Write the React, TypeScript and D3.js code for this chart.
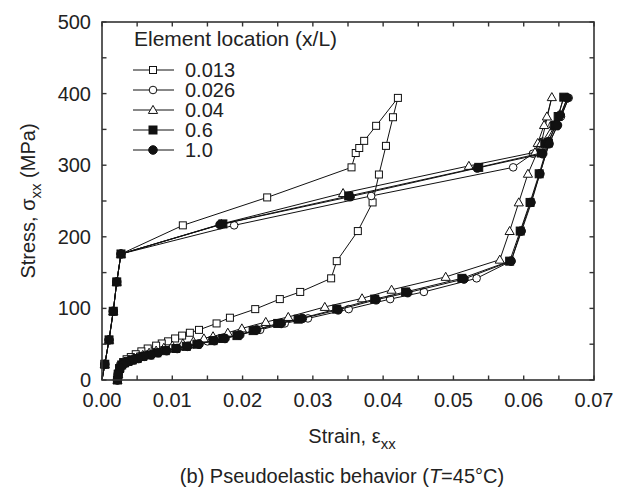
import React from "react";
import * as d3 from "d3";

type P = [number, number];

// Element location x/L = 0.013 (open squares)
const s0013: P[] = [
  [0, 0], [0.0004, 22], [0.001, 56], [0.0016, 96], [0.0021, 137], [0.0027, 176],
  [0.0115, 216], [0.0235, 255], [0.0355, 297], [0.0361, 317], [0.0366, 324], [0.0373, 334],
  [0.039, 355], [0.0421, 394],
  [0.0414, 367], [0.0404, 327], [0.0394, 287], [0.0385, 248], [0.0364, 208], [0.0334, 166],
  [0.0326, 142], [0.0282, 123], [0.0253, 113], [0.0218, 99], [0.0182, 87], [0.0163, 79],
  [0.0138, 70], [0.0125, 66], [0.0114, 62], [0.0104, 58], [0.0094, 54], [0.0085, 51],
  [0.0077, 48], [0.0065, 44], [0.0056, 40], [0.0048, 36], [0.0041, 32], [0.0035, 29],
  [0.003, 25], [0.0026, 19], [0.0023, 9], [0.0022, 0],
];

// x/L = 0.026 (open circles)
const s0026: P[] = [
  [0, 0], [0.0004, 22], [0.001, 56], [0.0016, 96], [0.0021, 137], [0.0027, 176],
  [0.0188, 216], [0.0383, 257], [0.0585, 297], [0.0613, 316], [0.0627, 333], [0.0641, 356],
  [0.0653, 368], [0.0664, 394],
  [0.0648, 355], [0.0636, 330], [0.0623, 288], [0.0611, 248], [0.0597, 208], [0.0582, 166],
  [0.0533, 142], [0.0458, 123], [0.041, 113], [0.0351, 99], [0.0293, 86], [0.026, 79],
  [0.0225, 70], [0.0195, 63], [0.017, 58], [0.015, 54], [0.013, 50], [0.0115, 47],
  [0.01, 45], [0.0088, 42], [0.0077, 39], [0.0067, 36], [0.0058, 33], [0.005, 31],
  [0.0043, 28], [0.0037, 26], [0.0032, 24], [0.0028, 21], [0.0025, 16], [0.0023, 8],
  [0.0022, 0],
];

// x/L = 0.04 (open triangles)
const s004: P[] = [
  [0, 0], [0.0004, 22], [0.001, 56], [0.0016, 96], [0.0021, 137], [0.0027, 176],
  [0.017, 218], [0.0343, 261], [0.0522, 299], [0.0616, 318], [0.062, 331], [0.0629, 356],
  [0.0633, 368], [0.064, 395],
  [0.0625, 331], [0.0606, 288], [0.0593, 248], [0.058, 208], [0.0566, 168],
  [0.0489, 144], [0.0412, 126], [0.037, 114], [0.0317, 102], [0.0265, 88], [0.0233, 81],
  [0.0199, 72], [0.0179, 66], [0.0158, 61], [0.0145, 58], [0.013, 54], [0.0115, 51],
  [0.01, 48], [0.0088, 45], [0.0077, 41], [0.0067, 38], [0.0058, 35], [0.005, 32],
  [0.0043, 29], [0.0037, 27], [0.0032, 25], [0.0028, 22], [0.0025, 17], [0.0023, 8],
  [0.0022, 0],
];

// x/L = 0.6 (filled squares)
const s06: P[] = [
  [0, 0], [0.0004, 22], [0.001, 56], [0.0016, 96], [0.0021, 137], [0.0027, 176],
  [0.0172, 218], [0.0351, 257], [0.0536, 297], [0.0625, 317], [0.063, 330], [0.0644, 355],
  [0.0649, 368], [0.0657, 395],
  [0.0645, 356], [0.0635, 331], [0.0622, 288], [0.0609, 248], [0.0595, 208], [0.058, 166],
  [0.0512, 142], [0.0432, 123], [0.0388, 113], [0.0334, 99], [0.0279, 85], [0.025, 79],
  [0.0215, 69], [0.0192, 62], [0.0172, 58], [0.0158, 55], [0.0135, 50], [0.012, 47],
  [0.0105, 44], [0.009, 41], [0.0078, 38], [0.0068, 35], [0.0058, 33], [0.005, 30],
  [0.0043, 28], [0.0037, 26], [0.0032, 24], [0.0028, 21], [0.0025, 16], [0.0023, 8],
  [0.0022, 0],
];

// x/L = 1.0 (filled circles)
const s10: P[] = [
  [0, 0], [0.0004, 22], [0.001, 56], [0.0016, 96], [0.0021, 137], [0.0027, 176],
  [0.0168, 217], [0.0353, 256], [0.0534, 296], [0.0627, 316], [0.0635, 333], [0.0646, 356],
  [0.0652, 370], [0.0662, 394],
  [0.0648, 356], [0.0636, 330], [0.0623, 288], [0.061, 248], [0.0596, 208], [0.0582, 166],
  [0.0515, 141], [0.0435, 122], [0.039, 112], [0.0336, 98], [0.0285, 86], [0.0255, 79],
  [0.022, 70], [0.0196, 63], [0.0175, 58], [0.016, 55], [0.0138, 50], [0.0122, 47],
  [0.0107, 44], [0.0092, 41], [0.008, 38], [0.007, 35], [0.006, 33], [0.0052, 30],
  [0.0045, 28], [0.0039, 26], [0.0034, 24], [0.003, 22], [0.0026, 17], [0.0023, 8],
  [0.0022, 0],
];

const seriesNames = ["0.013", "0.026", "0.04", "0.6", "1.0"];
const seriesData = [s0013, s0026, s004, s06, s10];
const seriesMarkers = ["square", "circle", "triangle", "squareFilled", "circleFilled"];

const xTickValues = [0, 0.01, 0.02, 0.03, 0.04, 0.05, 0.06, 0.07];
const xMinorTicks = [0.005, 0.015, 0.025, 0.035, 0.045, 0.055, 0.065];
const yTickValues = [0, 100, 200, 300, 400, 500];
const yMinorTicks = [50, 150, 250, 350, 450];

const W = 635, H = 493;
const X0 = 102, X1 = 594, Y0 = 380, Y1 = 22;
const FONT = "Arial, 'Liberation Sans', Helvetica, sans-serif";
const TXT = "#222";

function Marker({ kind, x, y }: { kind: string; x: number; y: number }) {
  const sw = 1;
  if (kind === "square")
    return <rect x={x - 3.5} y={y - 3.5} width={7} height={7} fill="#fff" stroke="#111" strokeWidth={sw} />;
  if (kind === "squareFilled")
    return <rect x={x - 4} y={y - 4} width={8} height={8} fill="#111" stroke="#111" strokeWidth={sw} />;
  if (kind === "circle")
    return <circle cx={x} cy={y} r={3.8} fill="#fff" stroke="#111" strokeWidth={sw} />;
  if (kind === "circleFilled")
    return <circle cx={x} cy={y} r={4.3} fill="#111" stroke="#111" strokeWidth={sw} />;
  const s = 4.6;
  const pts = `${x},${y - s} ${x - s},${y + s * 0.75} ${x + s},${y + s * 0.75}`;
  return <polygon points={pts} fill="#fff" stroke="#111" strokeWidth={sw} />;
}

export default function App() {
  const xScale = d3.scaleLinear().domain([0, 0.07]).range([X0, X1]);
  const yScale = d3.scaleLinear().domain([0, 500]).range([Y0, Y1]);
  const line = d3
    .line<P>()
    .x((d) => xScale(d[0]))
    .y((d) => yScale(d[1]));

  const allX = [...xTickValues, ...xMinorTicks];
  const allY = [...yTickValues, ...yMinorTicks];
  const tl = 4.5;

  return (
    <svg
      width={W}
      height={H}
      style={{ position: "absolute", left: 0, top: 0, background: "#fff" }}
      fontFamily={FONT}
    >
      {/* series */}
      {seriesData.map((data, i) => (
        <g key={i}>
          <path d={line(data) || ""} fill="none" stroke="#111" strokeWidth={1} />
          {data.slice(1).map((d, j) => (
            <Marker key={j} kind={seriesMarkers[i]} x={xScale(d[0])} y={yScale(d[1])} />
          ))}
        </g>
      ))}

      {/* frame */}
      <rect x={X0} y={Y1} width={X1 - X0} height={Y0 - Y1} fill="none" stroke="#333" strokeWidth={1.6} />
      {allX.map((v, i) => (
        <g key={"xt" + i}>
          <line x1={xScale(v)} x2={xScale(v)} y1={Y0} y2={Y0 - tl} stroke="#333" strokeWidth={1.4} />
          <line x1={xScale(v)} x2={xScale(v)} y1={Y1} y2={Y1 + tl} stroke="#333" strokeWidth={1.4} />
        </g>
      ))}
      {allY.map((v, i) => (
        <g key={"yt" + i}>
          <line x1={X0} x2={X0 + tl} y1={yScale(v)} y2={yScale(v)} stroke="#333" strokeWidth={1.4} />
          <line x1={X1} x2={X1 - tl} y1={yScale(v)} y2={yScale(v)} stroke="#333" strokeWidth={1.4} />
        </g>
      ))}

      {/* tick labels */}
      {xTickValues.map((v, i) => (
        <text key={"xl" + i} x={xScale(v)} y={407} textAnchor="middle" fontSize={20} fill={TXT}>
          {d3.format(".2f")(v)}
        </text>
      ))}
      {yTickValues.map((v, i) => (
        <text key={"yl" + i} x={91} y={yScale(v) + 7} textAnchor="end" fontSize={20} fill={TXT}>
          {v}
        </text>
      ))}

      {/* axis titles */}
      <text x={352} y={443} textAnchor="middle" fontSize={20} fill={TXT}>
        Strain, ε<tspan fontSize={15} dy={6}>xx</tspan>
      </text>
      <text
        transform={`translate(35, ${(Y0 + Y1) / 2}) rotate(-90)`}
        textAnchor="middle"
        fontSize={20}
        fill={TXT}
      >
        Stress, σ<tspan fontSize={15} dy={6}>xx</tspan>
        <tspan dy={-6}> (MPa)</tspan>
      </text>
      <text x={342} y={483} textAnchor="middle" fontSize={20} fill={TXT}>
        (b) Pseudoelastic behavior (<tspan fontStyle="italic">T</tspan>=45°C)
      </text>

      {/* legend */}
      <text x={134} y={46} fontSize={21} fill={TXT}>
        Element location (x/L)
      </text>
      {seriesNames.map((name, i) => {
        const yy = 70 + i * 20;
        return (
          <g key={"lg" + i}>
            <line x1={133} x2={174} y1={yy} y2={yy} stroke="#111" strokeWidth={1} />
            <Marker kind={seriesMarkers[i]} x={153} y={yy} />
            <text x={185} y={yy + 7} fontSize={20} fill={TXT}>
              {name}
            </text>
          </g>
        );
      })}
    </svg>
  );
}
